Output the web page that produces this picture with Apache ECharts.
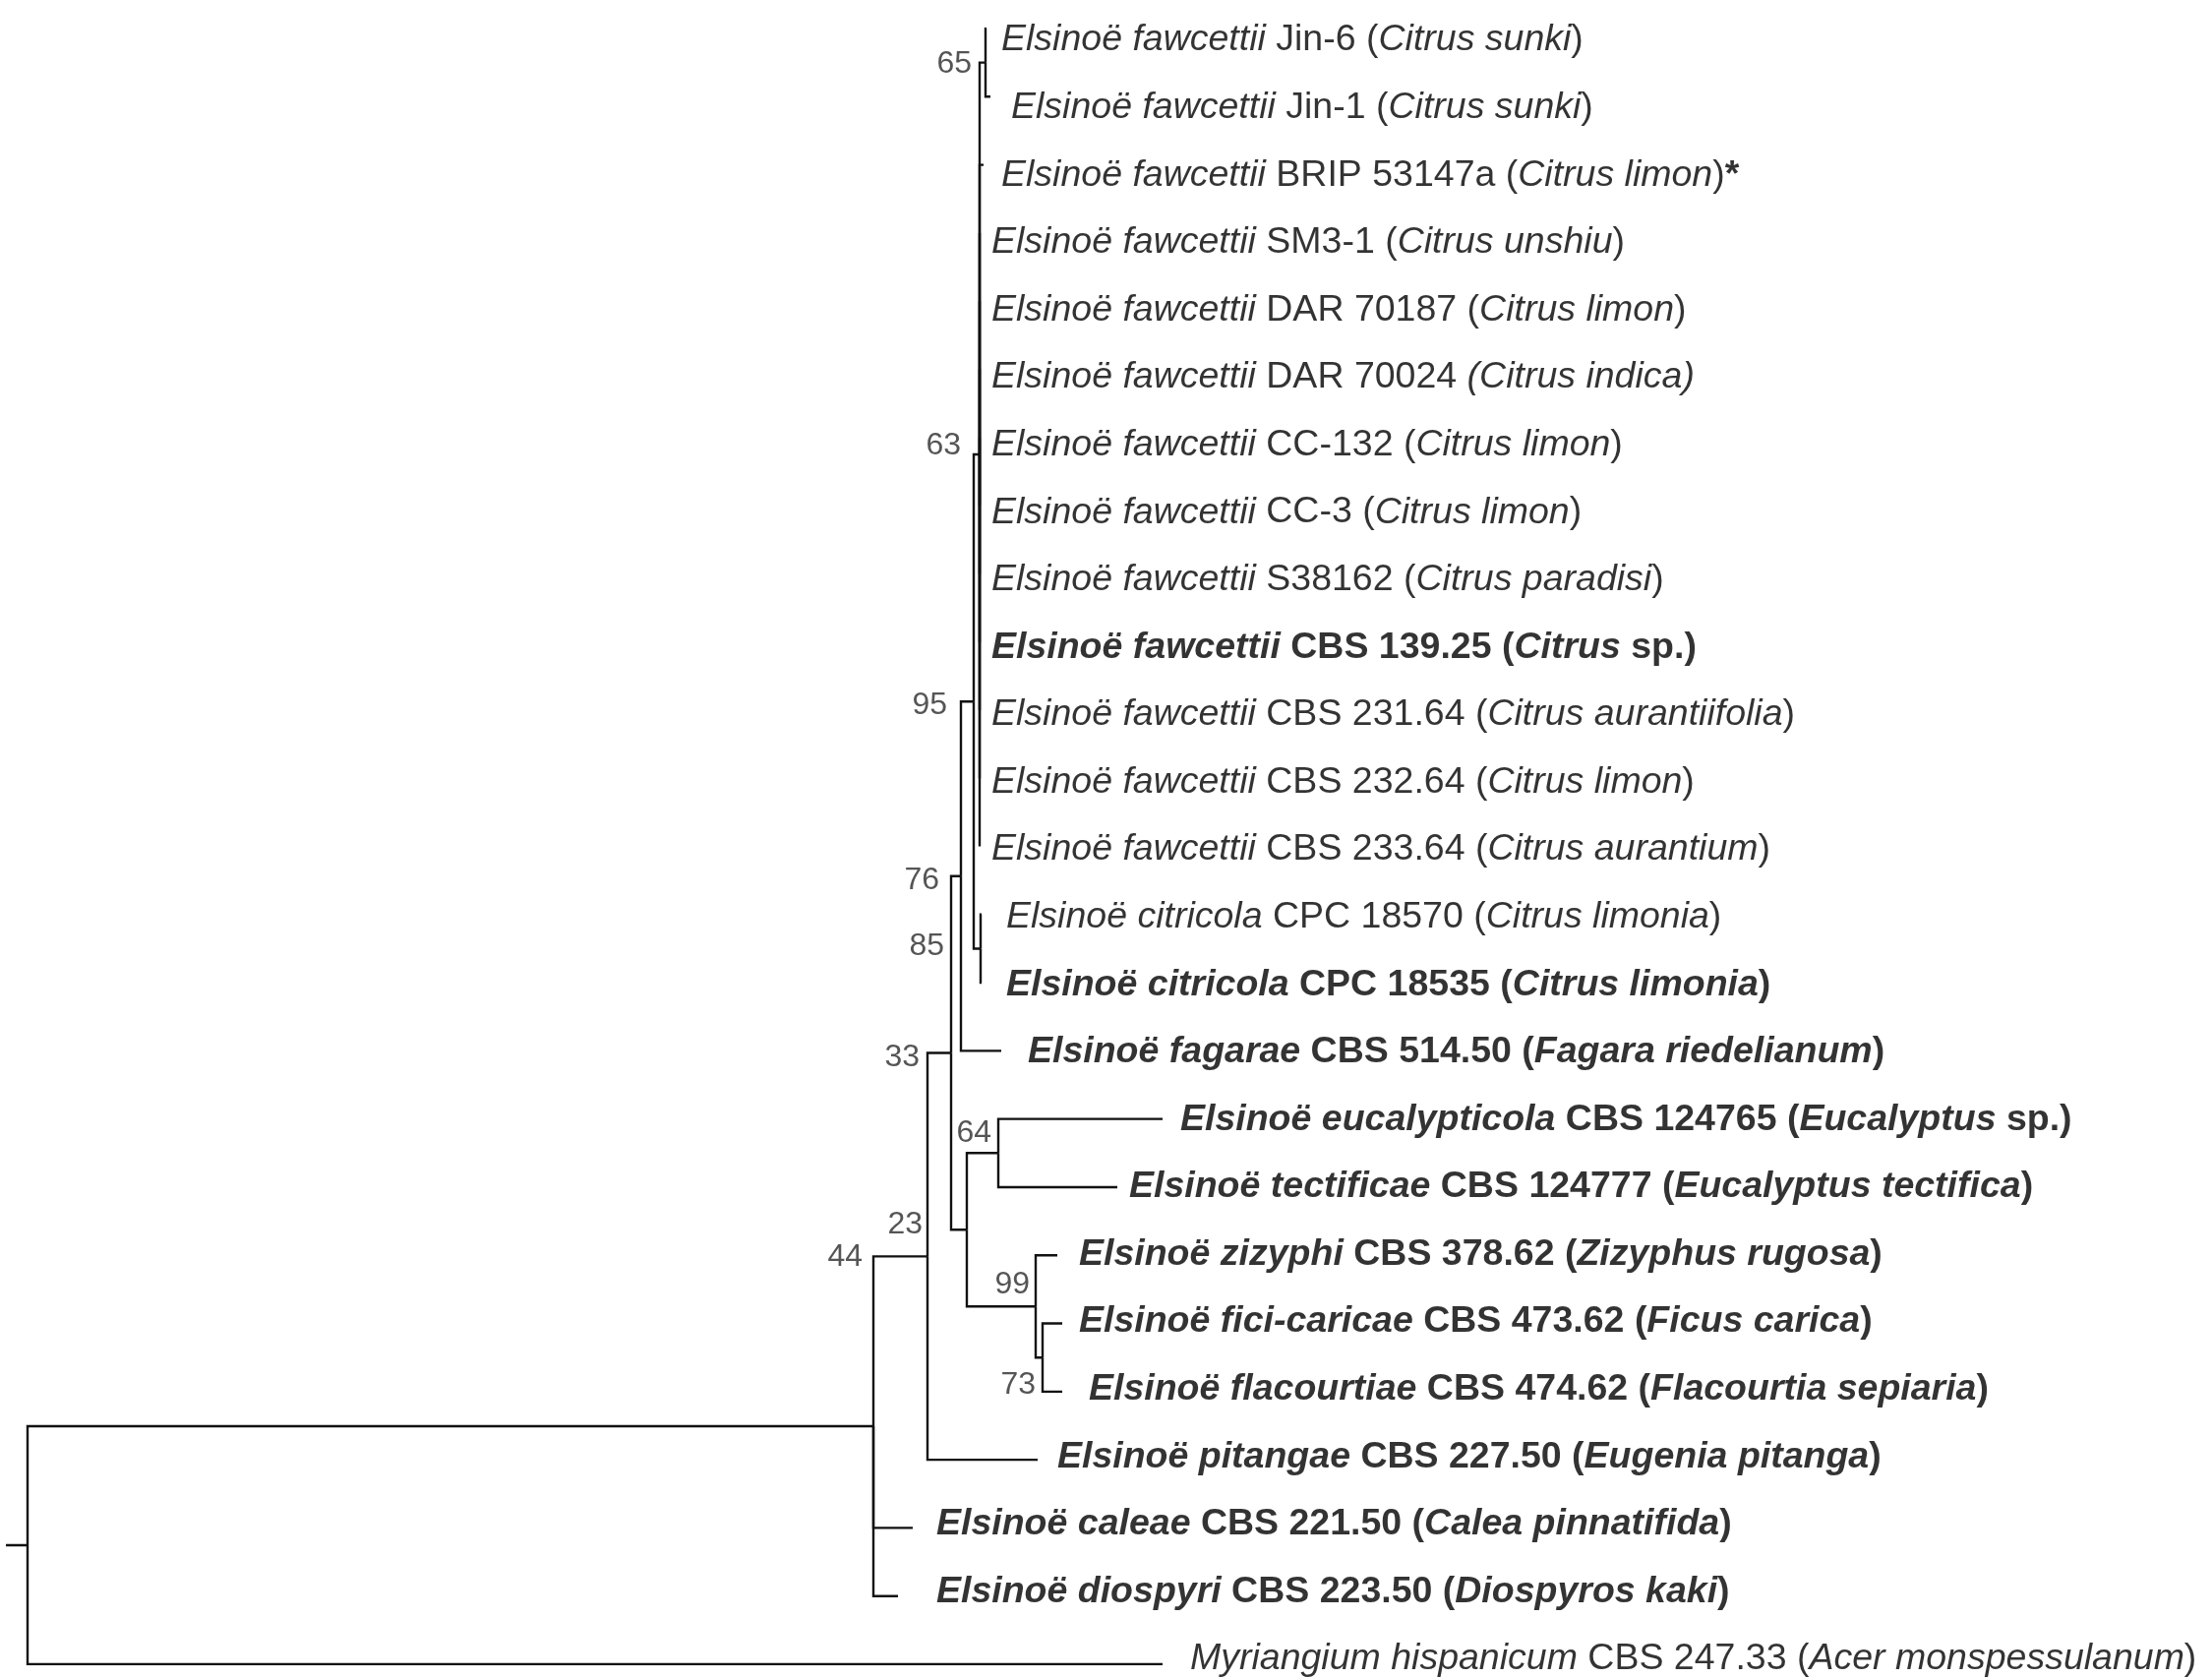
<!DOCTYPE html>
<html>
<head>
<meta charset="utf-8">
<title>Elsinoë phylogeny</title>
<script src="https://cdn.jsdelivr.net/npm/echarts@6/dist/echarts.min.js"></script>
<style>
  html, body { margin: 0; padding: 0; background: #ffffff; }
  #chart { width: 2249px; height: 1706px; }
</style>
</head>
<body>
<div id="chart"></div>
<script>
// ---- Taxa (top to bottom). "_" toggles italic, "~" toggles bold.
const tipLabels = [
  '_Elsinoë fawcettii_ Jin-6 (_Citrus sunki_)',
  '_Elsinoë fawcettii_ Jin-1 (_Citrus sunki_)',
  '_Elsinoë fawcettii_ BRIP 53147a (_Citrus limon_)~*~',
  '_Elsinoë fawcettii_ SM3-1 (_Citrus unshiu_)',
  '_Elsinoë fawcettii_ DAR 70187 (_Citrus limon_)',
  '_Elsinoë fawcettii_ DAR 70024 _(Citrus indica)_',
  '_Elsinoë fawcettii_ CC-132 (_Citrus limon_)',
  '_Elsinoë fawcettii_ CC-3 (_Citrus limon_)',
  '_Elsinoë fawcettii_ S38162 (_Citrus paradisi_)',
  '_Elsinoë fawcettii_ CBS 139.25 (_Citrus_ sp.)',
  '_Elsinoë fawcettii_ CBS 231.64 (_Citrus aurantiifolia_)',
  '_Elsinoë fawcettii_ CBS 232.64 (_Citrus limon_)',
  '_Elsinoë fawcettii_ CBS 233.64 (_Citrus aurantium_)',
  '_Elsinoë citricola_ CPC 18570 (_Citrus limonia_)',
  '_Elsinoë citricola_ CPC 18535 (_Citrus limonia_)',
  '_Elsinoë fagarae_ CBS 514.50 (_Fagara riedelianum_)',
  '_Elsinoë eucalypticola_ CBS 124765 (_Eucalyptus_ sp.)',
  '_Elsinoë tectificae_ CBS 124777 (_Eucalyptus tectifica_)',
  '_Elsinoë zizyphi_ CBS 378.62 (_Zizyphus rugosa_)',
  '_Elsinoë fici-caricae_ CBS 473.62 (_Ficus carica_)',
  '_Elsinoë flacourtiae_ CBS 474.62 (_Flacourtia sepiaria_)',
  '_Elsinoë pitangae_ CBS 227.50 (_Eugenia pitanga_)',
  '_Elsinoë caleae_ CBS 221.50 (_Calea pinnatifida_)',
  '_Elsinoë diospyri_ CBS 223.50 (_Diospyros kaki_)',
  '_Myriangium hispanicum_ CBS 247.33 (_Acer monspessulanum_)'
];
// ex-type strains are set in bold
const tipBold = [
  false, false, false, false, false, false, false, false, false, true,
  false, false, false, false, true, true, true, true, true, true,
  true, true, true, true, false
];
const tipParent = [
  'n65', 'n65', 'n63', 'n63', 'n63', 'n63', 'n63', 'n63', 'n63', 'n63',
  'n63', 'n63', 'n63', 'n85', 'n85', 'n76', 'n64', 'n64', 'n99', 'n73',
  'n73', 'n23', 'n44', 'n44', 'root'
];
const tipLength = [
  0.0005, 0.0025, 0.002, 0, 0, 0, 0, 0, 0, 0,
  0, 0, 0, 0.0005, 0.0005, 0.0205, 0.0835, 0.0605, 0.011, 0.010,
  0.010, 0.056, 0.020, 0.0125, 0.577
];

// ---- Internal nodes
const nodeIds     = ['root', 'n44', 'n23', 'n33', 'n76', 'n95', 'n63', 'n65', 'n85', 'nX', 'n64', 'n99', 'n73'];
const nodeParent  = [null,   'root', 'n44', 'n23', 'n33', 'n76', 'n95', 'n63', 'n95', 'n33', 'nX', 'nX', 'n99'];
const nodeLength  = [0.011,  0.430, 0.0275, 0.012, 0.005, 0.0065, 0.003, 0.003, 0.0035, 0.008, 0.016, 0.035, 0.0035];
const nodeSupport = [null,   44,    23,     33,    76,    95,     63,    65,    85,     null,  64,    99,    73];

// ---- Label placement (pixels)
const tipLabelGap = [15, 21, 18, 12, 12, 12, 12, 12, 12, 12, 12, 12, 12, 25, 25, 27, 18, 12, 22, 17, 27, 20, 24, 39, 28];
// [dx to right edge, dy to centre, anchor at node or at top of its vertical]
const supportPlace = {
  n65: [-14, 2, 'node'],  n63: [-19, -9, 'node'], n95: [-27, 4, 'node'],
  n76: [-22, 4, 'node'],  n85: [-37, -2, 'node'], n33: [-32, 5, 'node'],
  n64: [-7, -20, 'node'], n99: [-6, -22, 'node'], n73: [-7, 28, 'node'],
  n23: [-5, -32, 'node'], n44: [-11, 1, 'top']
};

// ---- Build the tree geometry in axis units
const nodes = {};
nodeIds.forEach((id, k) => {
  nodes[id] = { id, parent: nodeParent[k], len: nodeLength[k], support: nodeSupport[k], kids: [] };
});
const tips = tipLabels.map((label, i) => ({ id: 't' + i, parent: tipParent[i], len: tipLength[i], y: i, tip: true }));
tips.forEach(t => nodes[t.parent].kids.push(t));
nodeIds.forEach(id => { const p = nodes[id].parent; if (p) nodes[p].kids.push(nodes[id]); });

function placeY(n) {
  if (n.tip) return n.y;
  const ys = n.kids.map(placeY);
  n.top = Math.min(...ys);
  n.y = (Math.min(...ys) + Math.max(...ys)) / 2;
  return n.y;
}
function placeX(n, px) {
  n.x = px + n.len;
  if (!n.tip) n.kids.forEach(k => placeX(k, n.x));
}
const root = nodes.root;
placeY(root);
placeX(root, 0);

// Branches: elbow from the parent's vertical to each child
const branches = [{ coords: [[0, root.y], [root.x, root.y]] }];
function collect(n) {
  if (n.tip) return;
  n.kids.forEach(k => {
    branches.push({ coords: [[n.x, n.y], [n.x, k.y], [k.x, k.y]] });
    collect(k);
  });
}
collect(root);

// Rich-text label markup
function toRich(str, bold) {
  let out = '', buf = '', it = false, b = bold;
  const flush = () => {
    if (!buf) return;
    const key = b && it ? 'bi' : b ? 'b' : it ? 'i' : 'n';
    out += '{' + key + '|' + buf + '}';
    buf = '';
  };
  for (const ch of str) {
    if (ch === '_') { flush(); it = !it; }
    else if (ch === '~') { flush(); b = !b; }
    else buf += ch;
  }
  flush();
  return out;
}

const FONT = "'Liberation Sans', Arial, Helvetica, sans-serif";
const TXT = { fontFamily: FONT, fontSize: 37.5, color: '#000000', lineHeight: 44 };
const rich = {
  n:  Object.assign({}, TXT, { fontStyle: 'normal', fontWeight: 'normal' }),
  i:  Object.assign({}, TXT, { fontStyle: 'italic', fontWeight: 'normal' }),
  b:  Object.assign({}, TXT, { fontStyle: 'normal', fontWeight: 'bold' }),
  bi: Object.assign({}, TXT, { fontStyle: 'italic', fontWeight: 'bold' })
};

const tipData = tips.map((t, i) => ({
  value: [t.x, t.y],
  label: {
    show: true,
    position: 'right',
    distance: tipLabelGap[i],
    formatter: toRich(tipLabels[i], tipBold[i]),
    rich
  }
}));

const supportData = [];
nodeIds.forEach(id => {
  const n = nodes[id];
  if (n.support == null) return;
  const pl = supportPlace[id];
  const y = pl[2] === 'top' ? n.top : n.y;
  supportData.push({
    value: [n.x, y],
    label: {
      show: true,
      position: [pl[0], pl[1]],
      align: 'right',
      verticalAlign: 'middle',
      formatter: String(n.support),
      fontFamily: "'Liberation Sans Narrow', 'Liberation Sans', Arial, sans-serif",
      fontSize: 32,
      color: '#2a2a2a'
    }
  });
});

const axisX = { type: 'value', min: 0, max: 1, show: false };
const axisY = { type: 'value', min: 0, max: tipLabels.length - 1, inverse: true, show: false };

const chart = echarts.init(document.getElementById('chart'), null, { renderer: 'canvas' });
chart.setOption({
  animation: false,
  backgroundColor: '#ffffff',
  grid: [
    { left: 6, top: 29, width: 2000, height: 1663 },   // branches
    { left: 6, top: 41, width: 2000, height: 1646 }    // taxon names
  ],
  xAxis: [Object.assign({ gridIndex: 0 }, axisX), Object.assign({ gridIndex: 1 }, axisX)],
  yAxis: [Object.assign({ gridIndex: 0 }, axisY), Object.assign({ gridIndex: 1 }, axisY)],
  series: [
    {
      type: 'lines',
      coordinateSystem: 'cartesian2d',
      xAxisIndex: 0, yAxisIndex: 0,
      polyline: true,
      silent: true,
      lineStyle: { color: '#111111', width: 2.4, opacity: 1 },
      data: branches
    },
    {
      type: 'scatter',
      xAxisIndex: 0, yAxisIndex: 0,
      symbolSize: 0,
      silent: true,
      data: supportData
    },
    {
      type: 'scatter',
      xAxisIndex: 1, yAxisIndex: 1,
      symbolSize: 0,
      silent: true,
      data: tipData
    }
  ]
});
</script>
</body>
</html>
